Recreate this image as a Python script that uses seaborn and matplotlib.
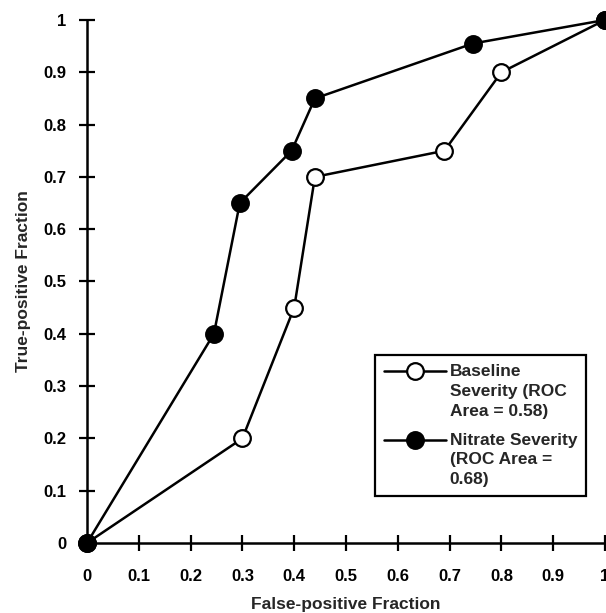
import numpy as np
import pandas as pd
import seaborn as sns
import matplotlib
matplotlib.use('Agg')
import matplotlib.pyplot as plt
from matplotlib.lines import Line2D
from matplotlib.legend_handler import HandlerLine2D

# ROC points
baseline_fpf = [0.0, 0.30, 0.40, 0.44, 0.69, 0.80, 1.0]
baseline_tpf = [0.0, 0.20, 0.45, 0.70, 0.75, 0.90, 1.0]
nitrate_fpf = [0.0, 0.245, 0.295, 0.395, 0.44, 0.745, 1.0]
nitrate_tpf = [0.0, 0.40, 0.65, 0.75, 0.85, 0.955, 1.0]

baseline_label = 'Baseline\nSeverity (ROC\nArea = 0.58)'
nitrate_label = 'Nitrate Severity\n(ROC Area =\n0.68)'

tick_vals = [0, 0.1, 0.2, 0.3, 0.4, 0.5, 0.6, 0.7, 0.8, 0.9, 1]
tick_labels = ['0', '0.1', '0.2', '0.3', '0.4', '0.5', '0.6', '0.7', '0.8', '0.9', '1']

sns.set_style('ticks')
plt.rcParams['font.family'] = ['Liberation Sans', 'DejaVu Sans']
plt.rcParams['font.weight'] = 'bold'

LEG_LINESPACING = 1.4


class TopHandler(HandlerLine2D):
    # put the legend marker next to the first line of a multi-line label
    def create_artists(self, legend, orig_handle, xdescent, ydescent,
                       width, height, fontsize, trans):
        arts = super().create_artists(legend, orig_handle, xdescent, ydescent,
                                      width, height, fontsize, trans)
        shift = 1.15 * fontsize
        for a in arts:
            a.set_ydata(np.asarray(a.get_ydata()) + shift)
        return arts


fig = plt.figure(figsize=(6.06, 6.13), dpi=100)
ax = fig.add_axes([0.1436, 0.1142, 0.8547, 0.8532])

base = pd.DataFrame({'fpf': baseline_fpf, 'tpf': baseline_tpf})
nitr = pd.DataFrame({'fpf': nitrate_fpf, 'tpf': nitrate_tpf})

sns.lineplot(data=base, x='fpf', y='tpf', sort=False, errorbar=None, ax=ax,
             color='black', linewidth=1.8, marker='o', markersize=12,
             markerfacecolor='white', markeredgecolor='black',
             markeredgewidth=1.6, clip_on=False, label=baseline_label, zorder=3)
sns.lineplot(data=nitr, x='fpf', y='tpf', sort=False, errorbar=None, ax=ax,
             color='black', linewidth=1.8, marker='o', markersize=12,
             markerfacecolor='black', markeredgecolor='black',
             markeredgewidth=1.6, clip_on=False, label=nitrate_label, zorder=4)

ax.set_xlim(0, 1)
ax.set_ylim(0, 1)
ax.set_xticks(tick_vals)
ax.set_xticklabels(tick_labels)
ax.set_yticks(tick_vals)
ax.set_yticklabels(tick_labels)

for s in ['top', 'right']:
    ax.spines[s].set_visible(False)
for s in ['left', 'bottom']:
    ax.spines[s].set_linewidth(1.8)
    ax.spines[s].set_color('black')

ax.tick_params(axis='both', direction='inout', length=11.5, width=1.6,
               colors='black', labelsize=12)
ax.tick_params(axis='x', pad=13)
ax.tick_params(axis='y', pad=9)
for lab in ax.get_xticklabels() + ax.get_yticklabels():
    lab.set_fontweight('bold')

ax.set_xlabel('False-positive Fraction', fontsize=12.5, fontweight='bold', labelpad=9)
ax.set_ylabel('True-positive Fraction', fontsize=12.5, fontweight='bold', labelpad=9)

leg = ax.legend(loc='lower left', bbox_to_anchor=(0.556, 0.09),
                borderaxespad=0, frameon=True, fancybox=False, framealpha=1,
                edgecolor='black', handlelength=3.6, handletextpad=0.2,
                borderpad=0.5, labelspacing=0.8,
                prop={'weight': 'bold', 'size': 12.5},
                handler_map={Line2D: TopHandler()})
for t in leg.get_texts():
    t.set_linespacing(LEG_LINESPACING)
leg.get_frame().set_linewidth(1.6)

fig.savefig('out.png', dpi=100)
